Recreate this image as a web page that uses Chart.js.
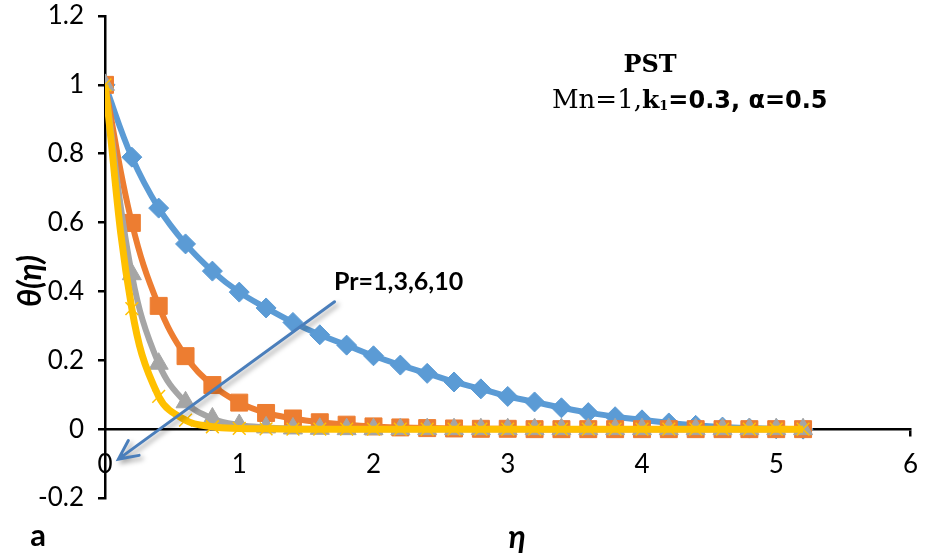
<!DOCTYPE html>
<html lang="en">
  <head>
    <meta charset="UTF-8" />
    <script src="https://cdn.jsdelivr.net/npm/chart.js@4.4.0/dist/chart.umd.min.js"></script>
    <title>Temperature profile theta(eta) for several Pr</title>
    <style>
      body {
        margin: 0;
        padding: 0;
        background: #fff;
      }

      .container {
        width: 932px;
        height: 558px;
      }
    </style>
  </head>
  <body>
    <div class="container">
      <canvas id="chart"></canvas>
    </div>
    <script>
      const eta = [0, 0.2, 0.4, 0.6, 0.8, 1, 1.2, 1.4, 1.6, 1.8, 2, 2.2, 2.4, 2.6, 2.8, 3, 3.2, 3.4, 3.6, 3.8, 4, 4.2, 4.4, 4.6, 4.8, 5, 5.2]
      const seriesNames = ['Pr=1', 'Pr=3', 'Pr=6', 'Pr=10']
      const thetaPr1 = [1, 0.79, 0.642, 0.538, 0.459, 0.398, 0.352, 0.31, 0.274, 0.244, 0.213, 0.186, 0.162, 0.137, 0.117, 0.095, 0.079, 0.062, 0.048, 0.036, 0.027, 0.018, 0.011, 0.006, 0.003, 0.001, 0]
      const thetaPr3 = [1, 0.599, 0.358, 0.212, 0.128, 0.077, 0.047, 0.031, 0.02, 0.013, 0.008, 0.005, 0.003, 0.002, 0.001, 0.001, 0, 0, 0, 0, 0, 0, 0, 0, 0, 0, 0]
      const thetaPr6 = [1, 0.45, 0.19, 0.078, 0.031, 0.012, 0.005, 0.002, 0.001, 0, 0, 0, 0, 0, 0, 0, 0, 0, 0, 0, 0, 0, 0, 0, 0, 0, 0]
      const thetaPr10 = [1, 0.35, 0.095, 0.026, 0.007, 0.002, 0.001, 0, 0, 0, 0, 0, 0, 0, 0, 0, 0, 0, 0, 0, 0, 0, 0, 0, 0, 0, 0]
      const xTicks = [0, 1, 2, 3, 4, 5, 6]
      const yTicks = [-0.2, 0, 0.2, 0.4, 0.6, 0.8, 1, 1.2]

      const tickFont = "Lato, 'Liberation Sans', sans-serif"
      const toPoints = (vals) => eta.map((e, i) => ({ x: e, y: vals[i] }))

      const drawRuns = (ctx, runs, x, y) => {
        let cx = x
        runs.forEach((r) => {
          ctx.font = r.font
          ctx.fillText(r.text, cx, y + (r.dy || 0))
          cx += ctx.measureText(r.text).width
        })
      }

      const annotations = {
        id: 'annotations',
        afterDatasetsDraw(chart) {
          const { ctx, scales } = chart
          const sx = scales.x
          const sy = scales.y
          ctx.save()

          // arrow through the curves, pointing to the origin
          const x1 = sx.getPixelForValue(1.71)
          const y1 = sy.getPixelForValue(0.37)
          const x2 = sx.getPixelForValue(0.1)
          const y2 = sy.getPixelForValue(-0.087)
          const ang = Math.atan2(y2 - y1, x2 - x1)
          ctx.shadowColor = 'rgba(0,0,0,0.35)'
          ctx.shadowBlur = 5
          ctx.shadowOffsetX = 3
          ctx.shadowOffsetY = 3
          ctx.strokeStyle = '#4a7ebb'
          ctx.lineWidth = 3
          ctx.lineCap = 'round'
          ctx.beginPath()
          ctx.moveTo(x1, y1)
          ctx.lineTo(x2, y2)
          ctx.moveTo(x2 - 21 * Math.cos(ang - 0.45), y2 - 21 * Math.sin(ang - 0.45))
          ctx.lineTo(x2, y2)
          ctx.lineTo(x2 - 21 * Math.cos(ang + 0.45), y2 - 21 * Math.sin(ang + 0.45))
          ctx.stroke()
          ctx.shadowColor = 'transparent'

          ctx.fillStyle = '#000'
          ctx.textBaseline = 'alphabetic'

          // parameter box
          ctx.textAlign = 'center'
          ctx.font = "bold 24px 'DejaVu Serif', serif"
          ctx.fillText('PST', 650, 72)
          ctx.textAlign = 'left'
          drawRuns(ctx, [
            { text: 'Mn=1,', font: "26px 'DejaVu Serif', serif" },
            { text: 'k', font: "bold 25px 'DejaVu Serif', serif" },
            { text: '1', font: "bold 13px 'DejaVu Serif', serif", dy: 2 },
            { text: '=0.3, α=0.5', font: "bold 24px 'DejaVu Sans', sans-serif" },
          ], 552, 108)

          ctx.font = "bold 25px " + tickFont
          ctx.fillText('Pr=1,3,6,10', 334, 290)

          // axis titles
          ctx.textAlign = 'center'
          ctx.font = "bold italic 32px Lato, 'DejaVu Sans', sans-serif"
          ctx.fillText('η', 517, 548)
          ctx.font = "bold 31px " + tickFont
          ctx.fillText('a', 38, 546)
          ctx.save()
          ctx.translate(41, 281)
          ctx.rotate(-Math.PI / 2)
          ctx.font = "bold italic 32px Lato, 'DejaVu Sans', sans-serif"
          ctx.fillText('θ(η)', 0, 0)
          ctx.restore()

          ctx.restore()
        },
      }

      const colors = ['#5b9bd5', '#ed7d31', '#a5a5a5', '#ffc000']
      const styles = ['rectRot', 'rect', 'triangle', 'crossRot']
      const radii = [10, 12, 11, 9]
      const allSeries = [thetaPr1, thetaPr3, thetaPr6, thetaPr10]

      const ctx = document.getElementById('chart').getContext('2d')
      const chart = new Chart(ctx, {
        type: 'line',
        data: {
          datasets: allSeries.map((vals, i) => ({
            label: seriesNames[i],
            data: toPoints(vals),
            borderColor: colors[i],
            backgroundColor: colors[i],
            borderWidth: i === 3 ? 7 : 6,
            tension: 0.4,
            pointStyle: styles[i],
            pointRadius: radii[i],
            pointBorderWidth: i === 3 ? 1.5 : 1,
            pointBackgroundColor: colors[i],
            pointBorderColor: colors[i],
            order: 4 - i,
          })),
        },
        options: {
          responsive: true,
          maintainAspectRatio: false,
          animation: false,
          layout: {
            padding: { left: 0, top: 16, right: 11, bottom: 60 },
          },
          plugins: {
            legend: { display: false },
            tooltip: { enabled: false },
          },
          scales: {
            x: {
              type: 'linear',
              position: { y: 0 },
              min: 0,
              max: 6,
              afterBuildTicks: (scale) => {
                scale.ticks = xTicks.map((v) => ({ value: v }))
              },
              border: { display: true, color: '#000', width: 2.5 },
              grid: {
                drawOnChartArea: false,
                drawTicks: true,
                tickLength: 6,
                lineWidth: 2.5,
                color: (c) => (c.tick && c.tick.value === 6 ? '#000' : 'rgba(0,0,0,0)'),
              },
              ticks: {
                color: '#000',
                padding: 14,
                maxRotation: 0,
                font: { family: tickFont, size: 26 },
                callback: (v) => String(v),
              },
            },
            y: {
              min: -0.2,
              max: 1.2,
              afterBuildTicks: (scale) => {
                scale.ticks = yTicks.map((v) => ({ value: v }))
              },
              afterFit: (scale) => {
                scale.width = 105
                scale.paddingTop = 0
                scale.paddingBottom = 0
              },
              border: { display: true, color: '#000', width: 2.5 },
              grid: {
                drawOnChartArea: false,
                drawTicks: true,
                tickLength: 7,
                lineWidth: 2.5,
                color: '#000',
              },
              ticks: {
                color: '#000',
                padding: 14,
                font: { family: tickFont, size: 26 },
                callback: (v) => String(Number(v.toFixed(1))),
              },
            },
          },
        },
        plugins: [annotations],
      })
    </script>
  </body>
</html>
